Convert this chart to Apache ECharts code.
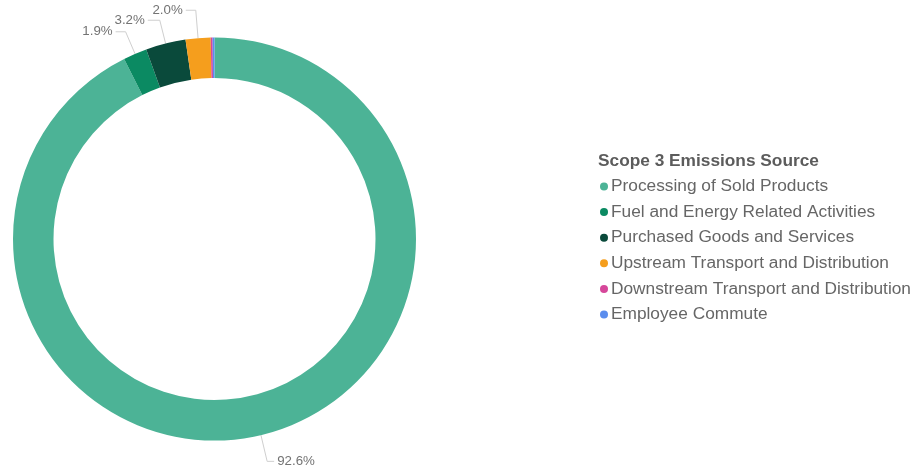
<!DOCTYPE html>
<html>
<head>
<meta charset="utf-8">
<script src="https://cdn.jsdelivr.net/npm/echarts@6/dist/echarts.min.js"></script>
<style>
  html, body { margin: 0; padding: 0; background: #fff; }
  #chart { width: 922px; height: 470px; }
</style>
</head>
<body>
<div id="chart"></div>
<script>
// Scope 3 emissions breakdown (share of total, %)
const categories = [
  'Processing of Sold Products',
  'Fuel and Energy Related Activities',
  'Purchased Goods and Services',
  'Upstream Transport and Distribution',
  'Downstream Transport and Distribution',
  'Employee Commute'
];
const shares = [92.6, 1.9, 3.2, 2.0, 0.15, 0.15];
const legendTitle = 'Scope 3 Emissions Source';

// styling per slice
const colors = ['#4cb396', '#0b8a62', '#0a4a3b', '#f59e1d', '#d6479a', '#5b8ded'];
const leaderLen = [27, 24, 24, 28, 0, 0];
const leaderLen2 = [7, 10, 12, 10, 0, 0];

const FONT = '"Liberation Sans", Arial, sans-serif';

const chart = echarts.init(document.getElementById('chart'), null, { renderer: 'canvas' });

const data = categories.map((name, i) => ({
  name,
  value: shares[i],
  itemStyle: { color: colors[i] },
  label: { show: shares[i] >= 1 },
  labelLine: { show: shares[i] >= 1, length: leaderLen[i], length2: leaderLen2[i] }
}));

chart.setOption({
  backgroundColor: '#ffffff',
  animation: false,
  graphic: [{
    type: 'text',
    left: 598,
    top: 153,
    style: {
      text: legendTitle,
      font: 'bold 17.3px ' + FONT,
      fill: '#5c5c5c'
    }
  }],
  legend: {
    orient: 'vertical',
    left: 600,
    top: 178,
    padding: 0,
    icon: 'circle',
    itemWidth: 8,
    itemHeight: 8,
    itemGap: 8.6,
    textStyle: { fontSize: 17.3, lineHeight: 17, color: '#666666', fontFamily: FONT, padding: [0, 0, 0, -2] },
    data: categories
  },
  series: [{
    type: 'pie',
    center: [214.5, 239],
    radius: [161, 201.5],
    startAngle: 90,
    clockwise: true,
    avoidLabelOverlap: false,
    labelLayout: { hideOverlap: false },
    label: {
      show: true,
      position: 'outside',
      formatter: p => p.value.toFixed(1) + '%',
      fontSize: 13.3,
      color: '#737373',
      fontFamily: FONT,
      distanceToLabelLine: 3
    },
    labelLine: {
      lineStyle: { color: '#cfcfcf', width: 1 }
    },
    emphasis: { disabled: true },
    data
  }]
});
</script>
</body>
</html>
